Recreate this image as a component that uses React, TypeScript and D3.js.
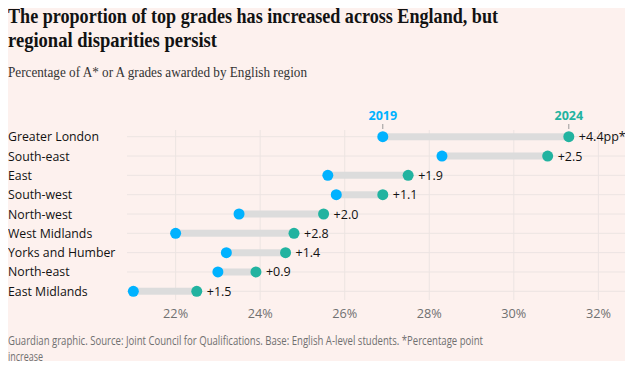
import * as d3 from 'd3';

// data
const regions = [
  'Greater London',
  'South-east',
  'East',
  'South-west',
  'North-west',
  'West Midlands',
  'Yorks and Humber',
  'North-east',
  'East Midlands',
];
const values2019 = [26.9, 28.3, 25.6, 25.8, 23.5, 22.0, 23.2, 23.0, 21.0];
const values2024 = [31.3, 30.8, 27.5, 26.9, 25.5, 24.8, 24.6, 23.9, 22.5];
const changeLabels = ['+4.4pp*', '+2.5', '+1.9', '+1.1', '+2.0', '+2.8', '+1.4', '+0.9', '+1.5'];
const ticks = [22, 24, 26, 28, 30, 32];

const W = 633;
const H = 369;
const BG = '#fdf1ee';
const BLUE = '#00b2ff';
const TEAL = '#22b3a0';
const SANS = "'Open Sans', 'DejaVu Sans', sans-serif";
const SERIF = "'Liberation Serif', serif";

const App = () => {
  const x = d3.scaleLinear().domain([20.85, 32.7]).range([127, 628]);
  const y = d3.scalePoint<string>().domain(regions).range([136.7, 291.3]);

  return (
    <div style={{ margin: -8, width: W, height: H, background: BG }}>
      <svg width={W} height={H} style={{ display: 'block' }}>
        <rect width={W} height={H} fill={BG} />
        <text x={8} y={23} fontFamily={SERIF} fontWeight={700} fontSize={22} fill="#121212"
          textLength={490} lengthAdjust="spacingAndGlyphs">
          The proportion of top grades has increased across England, but
        </text>
        <text x={8} y={47} fontFamily={SERIF} fontWeight={700} fontSize={22} fill="#121212"
          textLength={209} lengthAdjust="spacingAndGlyphs">
          regional disparities persist
        </text>
        <text x={8} y={77} fontFamily={SERIF} fontSize={15} fill="#333"
          textLength={299} lengthAdjust="spacingAndGlyphs">
          Percentage of A* or A grades awarded by English region
        </text>

        {/* grid */}
        {ticks.map((t) => (
          <line key={t} x1={x(t)} x2={x(t)} y1={130} y2={300} stroke="#ece4e2" strokeWidth={1} />
        ))}
        {regions.map((r) => (
          <line key={r} x1={127} x2={628} y1={y(r)} y2={y(r)} stroke="#ece4e2" strokeWidth={1} />
        ))}

        {/* tick labels */}
        {ticks.map((t) => (
          <text key={t} x={x(t)} y={318} textAnchor="middle" fontFamily={SANS} fontSize={12.5} fill="#707070"
            textLength={25} lengthAdjust="spacingAndGlyphs">
            {t}%
          </text>
        ))}

        {/* year labels */}
        <text x={x(values2019[0])} y={120} textAnchor="middle" fontFamily={SANS} fontWeight={700} fontSize={12.5} fill={BLUE}>
          2019
        </text>
        <line x1={x(values2019[0])} x2={x(values2019[0])} y1={124} y2={129} stroke="#999" />
        <text x={x(values2024[0])} y={120} textAnchor="middle" fontFamily={SANS} fontWeight={700} fontSize={12.5} fill={TEAL}>
          2024
        </text>
        <line x1={x(values2024[0])} x2={x(values2024[0])} y1={124} y2={129} stroke="#999" />

        {regions.map((r, i) => {
          const cy = y(r) ?? 0;
          return (
            <g key={r}>
              <text x={8} y={cy + 4.5} fontFamily={SANS} fontSize={12.3} fill="#121212">
                {r}
              </text>
              <line x1={x(values2019[i])} x2={x(values2024[i])} y1={cy} y2={cy} stroke="#dcdcdc" strokeWidth={7} />
              <circle cx={x(values2019[i])} cy={cy} r={5.5} fill={BLUE} />
              <circle cx={x(values2024[i])} cy={cy} r={5.5} fill={TEAL} />
              <text x={x(values2024[i]) + 10} y={cy + 4.5} fontFamily={SANS} fontSize={12.5} fill="#121212">
                {changeLabels[i]}
              </text>
            </g>
          );
        })}

        <text x={8} y={345} fontFamily={SANS} fontSize={12.5} fill="#707070"
          textLength={475} lengthAdjust="spacingAndGlyphs">
          Guardian graphic. Source: Joint Council for Qualifications. Base: English A-level students. *Percentage point
        </text>
        <text x={8} y={361} fontFamily={SANS} fontSize={12.5} fill="#707070"
          textLength={35} lengthAdjust="spacingAndGlyphs">
          increase
        </text>
        <line x1={8} x2={W} y1={366.5} y2={366.5} stroke="#dcdcdc" />
      </svg>
    </div>
  );
};

export default App;
